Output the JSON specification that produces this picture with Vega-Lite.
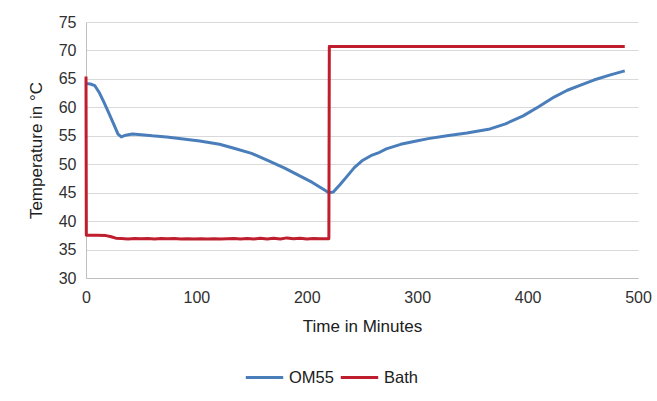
{
  "$schema": "https://vega.github.io/schema/vega-lite/v6.json",
  "width": 552,
  "height": 256,
  "autosize": {"type": "none"},
  "padding": {"left": 86, "top": 22, "right": 19, "bottom": 123},
  "background": "white",
  "config": {
    "view": {"stroke": null},
    "font": "Liberation Sans",
    "axis": {
      "labelFont": "Liberation Sans",
      "titleFont": "Liberation Sans",
      "labelFontSize": 16,
      "titleFontSize": 17,
      "titleFontWeight": "normal",
      "labelColor": "#303030",
      "titleColor": "#202020",
      "gridColor": "#d9d9d9",
      "domainColor": "#bfbfbf",
      "ticks": false
    },
    "legend": {"labelFont": "Liberation Sans", "labelFontSize": 16.5, "labelColor": "#202020"}
  },
  "data": {
    "values": [
      {"series": "OM55", "t": 0, "temp": 64.2},
      {"series": "OM55", "t": 4, "temp": 64.1},
      {"series": "OM55", "t": 8, "temp": 63.8},
      {"series": "OM55", "t": 12, "temp": 62.6},
      {"series": "OM55", "t": 16, "temp": 61.0},
      {"series": "OM55", "t": 20, "temp": 59.3},
      {"series": "OM55", "t": 25, "temp": 57.1},
      {"series": "OM55", "t": 29, "temp": 55.3},
      {"series": "OM55", "t": 32, "temp": 54.8},
      {"series": "OM55", "t": 36, "temp": 55.1},
      {"series": "OM55", "t": 42, "temp": 55.3},
      {"series": "OM55", "t": 50, "temp": 55.2},
      {"series": "OM55", "t": 60, "temp": 55.0},
      {"series": "OM55", "t": 73, "temp": 54.8},
      {"series": "OM55", "t": 90, "temp": 54.4},
      {"series": "OM55", "t": 103, "temp": 54.1},
      {"series": "OM55", "t": 121, "temp": 53.5},
      {"series": "OM55", "t": 134, "temp": 52.8},
      {"series": "OM55", "t": 150, "temp": 51.9},
      {"series": "OM55", "t": 164, "temp": 50.7},
      {"series": "OM55", "t": 180, "temp": 49.3},
      {"series": "OM55", "t": 194, "temp": 47.9},
      {"series": "OM55", "t": 205, "temp": 46.8},
      {"series": "OM55", "t": 215, "temp": 45.6},
      {"series": "OM55", "t": 220, "temp": 45.0},
      {"series": "OM55", "t": 224, "temp": 45.1},
      {"series": "OM55", "t": 230, "temp": 46.4},
      {"series": "OM55", "t": 237, "temp": 48.0},
      {"series": "OM55", "t": 243, "temp": 49.4},
      {"series": "OM55", "t": 250, "temp": 50.6},
      {"series": "OM55", "t": 258, "temp": 51.5},
      {"series": "OM55", "t": 266, "temp": 52.1},
      {"series": "OM55", "t": 272, "temp": 52.7},
      {"series": "OM55", "t": 285, "temp": 53.5},
      {"series": "OM55", "t": 297, "temp": 54.0},
      {"series": "OM55", "t": 310, "temp": 54.5},
      {"series": "OM55", "t": 327, "temp": 55.0},
      {"series": "OM55", "t": 345, "temp": 55.5},
      {"series": "OM55", "t": 366, "temp": 56.2},
      {"series": "OM55", "t": 380, "temp": 57.1},
      {"series": "OM55", "t": 396, "temp": 58.5},
      {"series": "OM55", "t": 410, "temp": 60.1},
      {"series": "OM55", "t": 424, "temp": 61.8},
      {"series": "OM55", "t": 436, "temp": 63.0},
      {"series": "OM55", "t": 448, "temp": 63.9},
      {"series": "OM55", "t": 460, "temp": 64.8},
      {"series": "OM55", "t": 475, "temp": 65.7},
      {"series": "OM55", "t": 488, "temp": 66.4},
      {"series": "Bath", "t": 0, "temp": 65.4},
      {"series": "Bath", "t": 0.3, "temp": 37.5},
      {"series": "Bath", "t": 10, "temp": 37.5},
      {"series": "Bath", "t": 18, "temp": 37.45},
      {"series": "Bath", "t": 22, "temp": 37.3},
      {"series": "Bath", "t": 27, "temp": 37.0},
      {"series": "Bath", "t": 32, "temp": 36.95},
      {"series": "Bath", "t": 38, "temp": 36.85},
      {"series": "Bath", "t": 44, "temp": 36.95},
      {"series": "Bath", "t": 50, "temp": 36.9},
      {"series": "Bath", "t": 56, "temp": 36.95},
      {"series": "Bath", "t": 62, "temp": 36.85},
      {"series": "Bath", "t": 68, "temp": 36.95},
      {"series": "Bath", "t": 74, "temp": 36.9},
      {"series": "Bath", "t": 80, "temp": 36.95},
      {"series": "Bath", "t": 86, "temp": 36.85},
      {"series": "Bath", "t": 92, "temp": 36.9},
      {"series": "Bath", "t": 98, "temp": 36.85},
      {"series": "Bath", "t": 104, "temp": 36.9},
      {"series": "Bath", "t": 110, "temp": 36.85},
      {"series": "Bath", "t": 116, "temp": 36.9},
      {"series": "Bath", "t": 122, "temp": 36.85},
      {"series": "Bath", "t": 128, "temp": 36.9},
      {"series": "Bath", "t": 134, "temp": 36.95},
      {"series": "Bath", "t": 140, "temp": 36.85},
      {"series": "Bath", "t": 146, "temp": 36.95},
      {"series": "Bath", "t": 152, "temp": 36.85},
      {"series": "Bath", "t": 158, "temp": 37.0},
      {"series": "Bath", "t": 164, "temp": 36.85},
      {"series": "Bath", "t": 170, "temp": 37.0},
      {"series": "Bath", "t": 176, "temp": 36.85},
      {"series": "Bath", "t": 182, "temp": 37.05},
      {"series": "Bath", "t": 188, "temp": 36.9},
      {"series": "Bath", "t": 194, "temp": 37.0},
      {"series": "Bath", "t": 200, "temp": 36.85},
      {"series": "Bath", "t": 206, "temp": 36.95},
      {"series": "Bath", "t": 212, "temp": 36.9},
      {"series": "Bath", "t": 220, "temp": 36.9},
      {"series": "Bath", "t": 220.4, "temp": 70.7},
      {"series": "Bath", "t": 488, "temp": 70.7}
    ]
  },
  "mark": {"type": "line", "strokeWidth": 3, "strokeJoin": "round"},
  "encoding": {
    "x": {
      "field": "t",
      "type": "quantitative",
      "scale": {"domain": [0, 500], "nice": false},
      "axis": {"values": [0, 100, 200, 300, 400, 500], "grid": false, "labelFlush": false, "labelPadding": 11, "title": "Time in Minutes", "titlePadding": 13}
    },
    "y": {
      "field": "temp",
      "type": "quantitative",
      "scale": {"domain": [30, 75], "nice": false, "zero": false},
      "axis": {"values": [30, 35, 40, 45, 50, 55, 60, 65, 70, 75], "labelPadding": 10, "title": "Temperature in °C", "titlePadding": 13}
    },
    "color": {
      "field": "series",
      "type": "nominal",
      "scale": {"domain": ["OM55", "Bath"], "range": ["#4a7ebb", "#be1e2d"]},
      "legend": {
        "title": null,
        "orient": "none",
        "direction": "horizontal",
        "legendX": 158,
        "legendY": 335,
        "symbolType": "stroke",
        "symbolSize": 1400,
        "symbolStrokeWidth": 3,
        "labelOffset": 4,
        "columnPadding": 0
      }
    }
  }
}
